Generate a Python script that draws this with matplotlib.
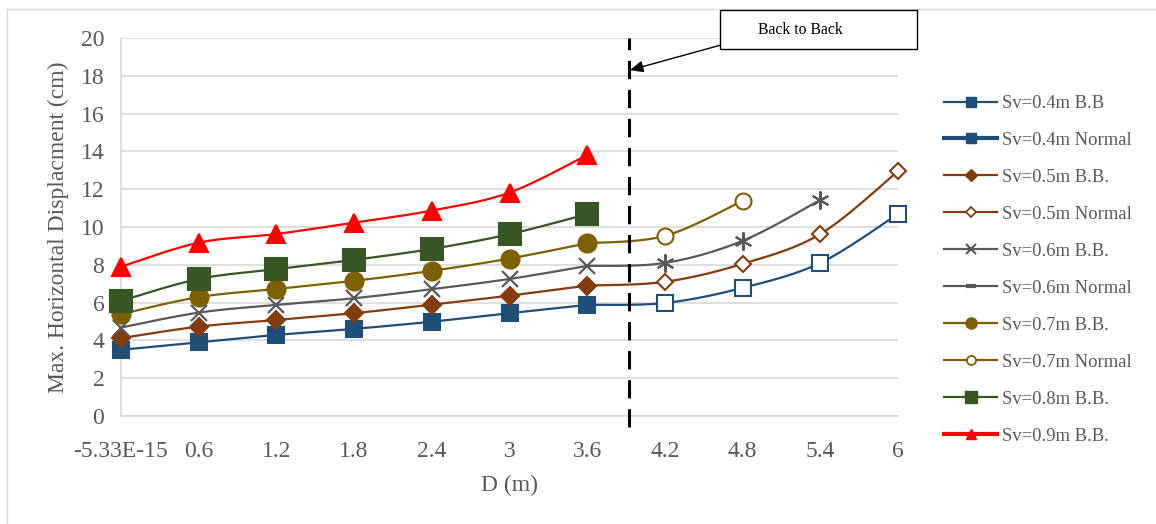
import numpy as np
import matplotlib
matplotlib.use("Agg")
import matplotlib.pyplot as plt
from matplotlib.lines import Line2D
from matplotlib.patches import Rectangle

plt.rcParams['font.family'] = ['Liberation Serif', 'DejaVu Serif']

# ---- data ----
x_bb = [0.0, 0.6, 1.2, 1.8, 2.4, 3.0, 3.6]
x_tick_labels = ['-5.33E-15', '0.6', '1.2', '1.8', '2.4', '3', '3.6', '4.2', '4.8', '5.4', '6']
x_ticks = [0.0, 0.6, 1.2, 1.8, 2.4, 3.0, 3.6, 4.2, 4.8, 5.4, 6.0]

sv04_bb = [3.50, 3.90, 4.29, 4.61, 4.99, 5.44, 5.88]
sv05_bb = [4.12, 4.73, 5.08, 5.44, 5.89, 6.37, 6.90]
sv06_bb = [4.68, 5.47, 5.88, 6.23, 6.71, 7.25, 7.94]
sv07_bb = [5.39, 6.29, 6.72, 7.15, 7.68, 8.33, 9.14]
sv08_bb = [6.09, 7.25, 7.77, 8.26, 8.84, 9.62, 10.68]
sv09_bb = [7.90, 9.17, 9.63, 10.23, 10.87, 11.82, 13.81]

# Normal series (first point at D=3.6 joins the B.B. curve, drawn without marker)
x_n04 = [3.6, 4.2, 4.8, 5.4, 6.0]
sv04_n = [5.88, 5.98, 6.78, 8.10, 10.69]
x_n05 = [3.6, 4.2, 4.8, 5.4, 6.0]
sv05_n = [6.90, 7.10, 8.05, 9.63, 12.95]
x_n06 = [3.6, 4.2, 4.8, 5.4]
sv06_n = [7.94, 8.10, 9.27, 11.43]
x_n07 = [3.6, 4.2, 4.8]
sv07_n = [9.14, 9.53, 11.38]

legend_labels = ['Sv=0.4m B.B', 'Sv=0.4m Normal', 'Sv=0.5m B.B.', 'Sv=0.5m Normal',
                 'Sv=0.6m B.B.', 'Sv=0.6m Normal', 'Sv=0.7m B.B.', 'Sv=0.7m Normal',
                 'Sv=0.8m B.B.', 'Sv=0.9m B.B.']

C_BLUE = '#1F4E79'
C_BROWN = '#843C0C'
C_GRAY = '#595959'
C_OLIVE = '#7F6000'
C_GREEN = '#375623'
C_RED = '#FF0000'


def smooth(x, y, n=30):
    """Bezier smoothing of the connecting line (Excel 'smoothed line')."""
    x = np.asarray(x, float)
    y = np.asarray(y, float)
    if len(x) < 3:
        return x, y
    P = np.column_stack([x, y])
    P = np.vstack([P[0], P, P[-1]])
    out = []
    for i in range(1, len(P) - 2):
        p0, p1, p2, p3 = P[i - 1], P[i], P[i + 1], P[i + 2]
        b1 = p1 + (p2 - p0) / 6.0
        b2 = p2 - (p3 - p1) / 6.0
        t = np.linspace(0, 1, n)[:, None]
        seg = ((1 - t) ** 3) * p1 + 3 * ((1 - t) ** 2) * t * b1 + 3 * (1 - t) * t ** 2 * b2 + t ** 3 * p2
        out.append(seg if i == 1 else seg[1:])
    out = np.vstack(out)
    return out[:, 0], out[:, 1]


fig = plt.figure(figsize=(11.56, 5.24), dpi=100)
ax = fig.add_axes([121 / 1156, 1 - 416 / 524, (898 - 121) / 1156, (416 - 38) / 524])

lw = 1.6

def draw(x, y, color, marker, ms, filled=True, skip_first=False, mew=1.5, z=3):
    sx, sy = smooth(x, y)
    ax.plot(sx, sy, color=color, lw=lw, zorder=z, solid_capstyle='round', clip_on=False)
    mx = x[1:] if skip_first else x
    my = y[1:] if skip_first else y
    ax.plot(mx, my, linestyle='none', marker=marker, ms=ms,
            markerfacecolor=color if filled else 'white',
            markeredgecolor=color, mew=mew, zorder=z + 1, clip_on=False)

# Normal series
draw(x_n04, sv04_n, C_BLUE, 's', 11.5, filled=False, skip_first=True, mew=1.5)
draw(x_n05, sv05_n, C_BROWN, 'D', 8, filled=False, skip_first=True, mew=1.5)
draw(x_n06, sv06_n, C_GRAY, (6, 2, 0), 13, filled=False, skip_first=True, mew=1.5)
draw(x_n07, sv07_n, C_OLIVE, 'o', 11.5, filled=False, skip_first=True, mew=1.5)

# B.B. series
draw(x_bb, sv04_bb, C_BLUE, 's', 11.5)
draw(x_bb, sv05_bb, C_BROWN, 'D', 9)
draw(x_bb, sv06_bb, C_GRAY, 'x', 11, mew=1.6)
draw(x_bb, sv07_bb, C_OLIVE, 'o', 13)
draw(x_bb, sv08_bb, C_GREEN, 's', 16)
draw(x_bb, sv09_bb, C_RED, '^', 12.5)

# dashed "back to back" boundary
ax.plot([3.92, 3.92], [-0.6, 20], color='black', lw=2.2, linestyle=(0, (6, 3.5)),
        clip_on=False, zorder=5)

ax.set_xlim(0, 6)
ax.set_ylim(0, 20)
ax.set_yticks(np.arange(0, 21, 2))
ax.set_xticks(x_ticks)
ax.set_xticklabels(x_tick_labels)
ax.grid(axis='y', color='#D9D9D9', lw=1.2)
ax.set_axisbelow(True)
for s in ['top', 'right']:
    ax.spines[s].set_visible(False)
for s in ['left', 'bottom']:
    ax.spines[s].set_color('#D9D9D9')
    ax.spines[s].set_linewidth(1.2)
ax.tick_params(length=0, labelsize=17, colors='#595959')
ax.tick_params(axis='y', pad=12)
ax.tick_params(axis='x', pad=18)
ax.set_ylabel('Max. Horizontal Displacment (cm)', fontsize=17, color='#595959', labelpad=8)
ax.set_xlabel('D (m)', fontsize=17, color='#595959', labelpad=9)

# annotation box
fig.patches.append(Rectangle((720 / 1156, 1 - 49 / 524), 197 / 1156, 39 / 524,
                             transform=fig.transFigure, facecolor='white',
                             edgecolor='black', lw=1.0, zorder=10))
fig.text(800 / 1156, 1 - 30 / 524, 'Back to Back', ha='center', va='center',
         fontsize=11.3, color='black', zorder=11)
ax.annotate('', xy=(3.93, 18.3), xycoords='data',
            xytext=(721 / 1156, 1 - 45 / 524), textcoords='figure fraction',
            arrowprops=dict(arrowstyle='-|>,head_length=0.8,head_width=0.35',
                            color='black', lw=1.0, shrinkA=0, shrinkB=0),
            annotation_clip=False, zorder=12)

# legend
handles = [
    Line2D([], [], color=C_BLUE, lw=1.6, marker='s', ms=7, mfc=C_BLUE, mec=C_BLUE),
    Line2D([], [], color=C_BLUE, lw=3.0, marker='s', ms=7, mfc=C_BLUE, mec=C_BLUE),
    Line2D([], [], color=C_BROWN, lw=1.6, marker='D', ms=6, mfc=C_BROWN, mec=C_BROWN),
    Line2D([], [], color=C_BROWN, lw=1.6, marker='D', ms=5.5, mfc='white', mec=C_BROWN, mew=1.3),
    Line2D([], [], color=C_GRAY, lw=1.6, marker='x', ms=7, mec=C_GRAY, mew=1.5),
    Line2D([], [], color=C_GRAY, lw=1.6, marker='_', ms=7, mec=C_GRAY, mew=3),
    Line2D([], [], color=C_OLIVE, lw=1.6, marker='o', ms=8, mfc=C_OLIVE, mec=C_OLIVE),
    Line2D([], [], color=C_OLIVE, lw=1.6, marker='o', ms=6.5, mfc='white', mec=C_OLIVE, mew=1.3),
    Line2D([], [], color=C_GREEN, lw=1.6, marker='s', ms=8, mfc=C_GREEN, mec=C_GREEN),
    Line2D([], [], color=C_RED, lw=3.0, marker='^', ms=7, mfc=C_RED, mec=C_RED),
]
leg = fig.legend(handles, legend_labels, loc='upper left',
                 bbox_to_anchor=(944 / 1156, 1 - 95 / 524), frameon=False,
                 fontsize=13.4, handlelength=2.85, handletextpad=0.27,
                 labelspacing=1.07, borderaxespad=0, borderpad=0)
for t in leg.get_texts():
    t.set_color('#595959')

# outer chart border
fig.patches.append(Rectangle((7 / 1156, -0.05), 1.2, 1.05 - 9 / 524,
                             transform=fig.transFigure, fill=False,
                             edgecolor='#D9D9D9', lw=1.0, zorder=0))

fig.savefig('out.png', dpi=100)
